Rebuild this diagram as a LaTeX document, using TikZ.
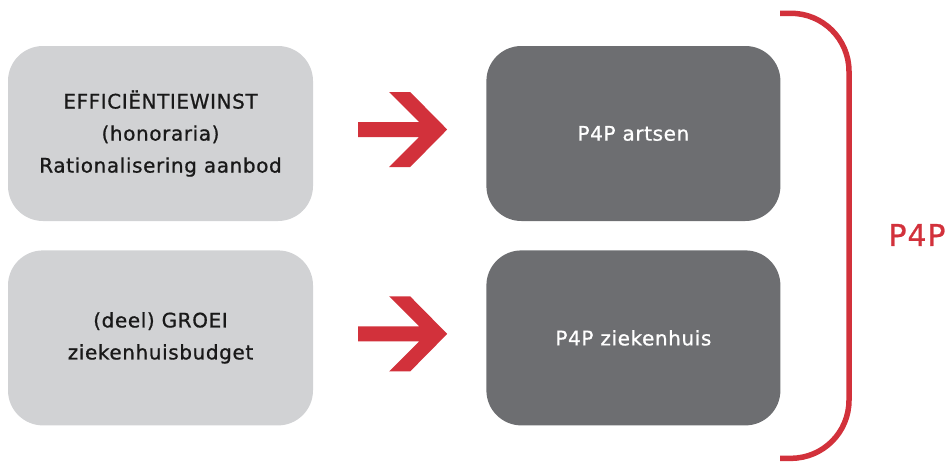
\documentclass[tikz,border=0pt]{standalone}
\usepackage{fontspec}
\setmainfont[LetterSpace=3,FakeBold=0.8]{DejaVu Sans}
\usetikzlibrary{positioning}
\definecolor{lightgrey}{RGB}{209,210,212}
\definecolor{darkgrey}{RGB}{109,110,113}
\definecolor{p4pred}{RGB}{210,49,59}
\begin{document}
\begin{tikzpicture}[x=1pt,y=-1pt,
        box/.style={rectangle,rounded corners=35pt,minimum width=305pt,minimum height=175pt,inner sep=0pt,align=center,font=\fontsize{20}{32}\selectfont},
        lightbox/.style={box,fill=lightgrey,text=black!90},
        darkbox/.style={box,fill=darkgrey,text=white,minimum width=294pt},
        blockarrow/.style={fill=p4pred}]
    \useasboundingbox (0,0) rectangle (946,461);
    \node[lightbox] (eff) at (160.5,133.5) {EFFICIËNTIEWINST\\(honoraria)\\Rationalisering aanbod};
    \node[lightbox,below=29pt of eff] (groei) {(deel) GROEI\\ziekenhuisbudget};
    \node[darkbox,right=173pt of eff] (artsen) {P4P artsen};
    \node[darkbox,right=173pt of groei] (zkh) {P4P ziekenhuis};
    \foreach \from in {eff,groei}
        \fill[blockarrow] ([shift={(45,-11.5)}]\from.east) -- ++(61,0) -- ++(-30,-30) -- ++(21,0) -- ++(37,37.5)
            -- ++(-37,37.5) -- ++(-21,0) -- ++(30,-30) -- ++(-61,0) -- cycle;
    \draw[p4pred,line width=5.5pt,rounded corners=58pt] (780,13.3) -- (849,13.3) -- (849,458.3) -- (780,458.3);
    \node[text=p4pred,font=\fontsize{30}{36}\selectfont] (p4p) at (917,235) {P4P};
\end{tikzpicture}
\end{document}
